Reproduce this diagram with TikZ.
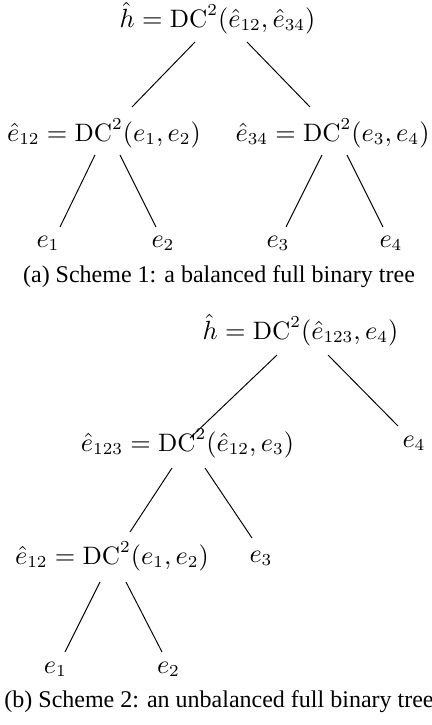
\documentclass[tikz,border=0pt]{standalone}
\usepackage{fontspec}
\newfontfamily\capfont{Liberation Serif}
\usetikzlibrary{calc}
\begin{document}
\begin{tikzpicture}[x=0.4167pt,y=-0.4167pt,
  lbl/.style={anchor=base,inner sep=0pt,font=\fontsize{10.5}{12.5}\selectfont},
  captext/.style={anchor=base,inner sep=0pt,font=\capfont\fontsize{10}{12}\selectfont},
  conn/.style={line width=0.4pt}]
\useasboundingbox (0,0) rectangle (432,725);
% ---- Scheme 1
\node[lbl] (R1) at (217.5,27) {$\hat{h} = \mathrm{DC}^2(\hat{e}_{12}, \hat{e}_{34})$};
\node[lbl] (A1) at (104,141) {$\hat{e}_{12} = \mathrm{DC}^2(e_1, e_2)$};
\node[lbl] (A2) at (332.5,141) {$\hat{e}_{34} = \mathrm{DC}^2(e_3, e_4)$};
\node[lbl] (ea1) at (48,247) {$e_1$};
\node[lbl] (ea2) at (163,247) {$e_2$};
\node[lbl] (ea3) at (278,247) {$e_3$};
\node[lbl] (ea4) at (391,247) {$e_4$};
\node[captext] (capa) at (219,282) {(a) Scheme 1: a balanced full binary tree};
\draw[conn] ($(R1.base)+(-22.5,15)$) -- ($(A1.base)+(28,-34)$);
\draw[conn] ($(R1.base)+(29.5,15)$) -- ($(A2.base)+(-22.5,-34)$);
\draw[conn] ($(A1.base)+(-9,14)$) -- ($(ea1.base)+(12,-20)$);
\draw[conn] ($(A1.base)+(16,14)$) -- ($(ea2.base)+(-7,-20)$);
\draw[conn] ($(A2.base)+(-10.5,14)$) -- ($(ea3.base)+(8,-20)$);
\draw[conn] ($(A2.base)+(14.5,14)$) -- ($(ea4.base)+(-8,-20)$);
% ---- Scheme 2
\node[lbl] (R2) at (300.5,339) {$\hat{h} = \mathrm{DC}^2(\hat{e}_{123}, e_4)$};
\node[lbl] (B1) at (187.5,451) {$\hat{e}_{123} = \mathrm{DC}^2(\hat{e}_{12}, e_3)$};
\node[lbl] (eb4) at (414,447) {$e_4$};
\node[lbl] (B2) at (112,564) {$\hat{e}_{12} = \mathrm{DC}^2(e_1, e_2)$};
\node[lbl] (eb3) at (261,562) {$e_3$};
\node[lbl] (eb1) at (55.5,673) {$e_1$};
\node[lbl] (eb2) at (168.5,673) {$e_2$};
\node[captext] (capb) at (219,707) {(b) Scheme 2: an unbalanced full binary tree};
\draw[conn] ($(R2.base)+(-23.5,16)$) -- ($(B1.base)+(2.5,-13)$);
\draw[conn] ($(R2.base)+(27.5,16)$) -- ($(eb4.base)+(-16,-21)$);
\draw[conn] ($(B1.base)+(-15.5,17)$) -- ($(B2.base)+(18,-32)$);
\draw[conn] ($(B1.base)+(17.5,17)$) -- ($(eb3.base)+(-9,-24)$);
\draw[conn] ($(B2.base)+(-12,18)$) -- ($(eb1.base)+(9.5,-21)$);
\draw[conn] ($(B2.base)+(14,18)$) -- ($(eb2.base)+(-6.5,-21)$);
\end{tikzpicture}
\end{document}
